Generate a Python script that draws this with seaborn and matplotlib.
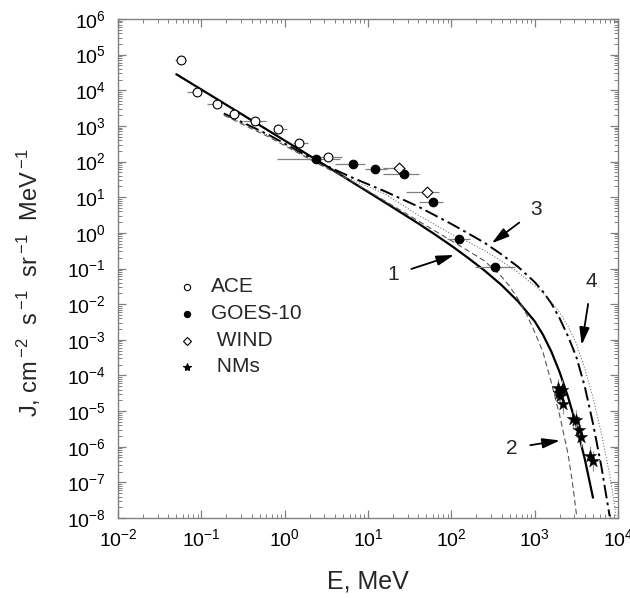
import numpy as np
import matplotlib
matplotlib.use("Agg")
import matplotlib.pyplot as plt
from matplotlib.ticker import LogLocator, NullFormatter
import seaborn as sns

# --- measured points (E in MeV, J in cm^-2 s^-1 sr^-1 MeV^-1) ---
ace_E = [0.0565, 0.0895, 0.153, 0.249, 0.445, 0.824, 1.47, 3.34]
ace_J = [7.1e4, 9.1e3, 4.0e3, 2.1e3, 1.35e3, 800, 330, 134]
ace_E_lo = [0.0485, 0.068, 0.116, 0.212, 0.319, 0.735, 1.27, 2.31]
ace_E_hi = [0.0658, 0.096, 0.168, 0.292, 0.592, 1.06, 1.92, 4.83]

goes_E = [2.38, 6.55, 12.1, 27.3, 59.7, 122, 334]
goes_J = [117, 87, 61, 46, 7.5, 0.66, 0.112]
goes_E_lo = [0.805, 4.04, 9.2, 15.3, 40.4, 88, 192]
goes_E_hi = [4.63, 9.25, 16.7, 40.4, 80.5, 167, 581]

wind_E = [23.5, 50.6]
wind_J = [68, 14.3]
wind_E_lo = [15.2, 28.4]
wind_E_hi = [27.7, 71.4]

nm_E = [1923, 2109, 1977, 2014, 2208, 2911, 3133, 3436, 3597, 4613, 5058]
nm_J = [4.35e-5, 3.9e-5, 3.16e-5, 2.63e-5, 1.58e-5, 5.9e-6, 5.6e-6, 2.95e-6, 1.9e-6, 5.5e-7, 4.1e-7]
nm_J_lo = [2.3e-5, 2.0e-5, 1.7e-5, 1.4e-5, 8.5e-6, 3.1e-6, 3.0e-6, 1.6e-6, 1.0e-6, 2.8e-7, 2.1e-7]
nm_J_hi = [8.0e-5, 7.3e-5, 5.9e-5, 4.9e-5, 3.0e-5, 1.1e-5, 1.05e-5, 5.5e-6, 3.6e-6, 1.05e-6, 7.8e-7]

# --- model curves ---
c1_E = [0.0501, 0.251, 1.0, 2.51, 6.31, 15.8, 39.8, 63.1, 100, 158, 251, 398, 631, 1000, 1259, 1585,
        1995, 2512, 3162, 3981, 5012]
c1_J = [2.82e4, 2.82e3, 389, 105, 27.5, 7.24, 1.86, 0.912, 0.437, 0.2, 0.0871, 0.0347, 0.012, 3.31e-3,
        1.38e-3, 4.68e-4, 1.23e-4, 2.51e-5, 3.98e-6, 4.68e-7, 3.72e-8]

c2_E = [0.186, 0.631, 2.51, 6.31, 15.8, 39.8, 100, 158, 251, 398, 501, 631, 794, 1000, 1259, 1585, 1995,
        2512, 2818, 3020, 3199]
c2_J = [2000, 501, 87.1, 28.8, 7.94, 2.19, 0.603, 0.316, 0.162, 0.0603, 0.0316, 0.0141, 5.37e-3, 1.66e-3,
        4.47e-4, 6.31e-5, 7.59e-6, 6.31e-7, 1.12e-7, 3.16e-8, 1.07e-8]

c3_E = [0.186, 0.631, 2.51, 6.31, 15.8, 39.8, 100, 158, 251, 398, 631, 1000, 1259, 1585, 1995, 2512,
        3162, 3981, 5012, 6310, 7079, 7943]
c3_J = [2240, 575, 97.7, 36.3, 14.8, 5.5, 1.78, 0.977, 0.525, 0.251, 0.112, 0.0417, 0.0224, 0.0105,
        3.98e-3, 1.26e-3, 3.31e-4, 5.01e-5, 4.47e-6, 2.82e-7, 5.62e-8, 1.12e-8]

c4_E = [0.186, 0.631, 2.51, 6.31, 15.8, 39.8, 100, 158, 251, 398, 631, 1000, 1259, 1585, 1995, 2512,
        3162, 3981, 5012, 6310, 7943, 8913, 9441]
c4_J = [2090, 550, 89.1, 30.9, 12.6, 3.16, 0.933, 0.562, 0.316, 0.162, 0.0776, 0.0331, 0.0204, 0.0115,
        5.75e-3, 2.4e-3, 7.94e-4, 1.58e-4, 2.4e-5, 2.4e-6, 1.66e-7, 3.16e-8, 1.12e-8]

legend_labels = ["ACE", "GOES-10", " WIND", " NMs"]
curve_labels = ["1", "2", "3", "4"]

sns.set_theme(style="ticks")
plt.rcParams["font.family"] = ["Liberation Sans", "DejaVu Sans"]
plt.rcParams["mathtext.fontset"] = "custom"
plt.rcParams["mathtext.rm"] = "Liberation Sans"
plt.rcParams["mathtext.it"] = "Liberation Sans:italic"
plt.rcParams["mathtext.bf"] = "Liberation Sans:bold"

fig = plt.figure(figsize=(6.3, 5.98), dpi=100)
ax = fig.add_axes([118 / 630, 1 - 518 / 598, 500 / 630, 499 / 598])
ax.set_xscale("log")
ax.set_yscale("log")

gray = "#808080"

# curves
sns.lineplot(x=c1_E, y=c1_J, ax=ax, color="black", lw=1.6, sort=False, estimator=None)
sns.lineplot(x=c2_E, y=c2_J, ax=ax, color="#555555", lw=0.8, sort=False, estimator=None,
             linestyle=(0, (5, 3)))
sns.lineplot(x=c3_E, y=c3_J, ax=ax, color="black", lw=1.4, sort=False, estimator=None,
             linestyle=(0, (7, 2.2, 1.4, 2.2)))
sns.lineplot(x=c4_E, y=c4_J, ax=ax, color="#555555", lw=0.7, sort=False, estimator=None,
             linestyle=(0, (1, 2)))

# error bars
def xbars(E, J, lo, hi):
    E = np.array(E)
    ax.errorbar(E, J, xerr=[E - np.array(lo), np.array(hi) - E], fmt="none",
                ecolor=gray, elinewidth=0.9, capsize=0, zorder=3)

xbars(ace_E, ace_J, ace_E_lo, ace_E_hi)
xbars(goes_E, goes_J, goes_E_lo, goes_E_hi)
xbars(wind_E, wind_J, wind_E_lo, wind_E_hi)
nmJ = np.array(nm_J)
ax.errorbar(nm_E, nmJ, yerr=[nmJ - np.array(nm_J_lo), np.array(nm_J_hi) - nmJ], fmt="none",
            ecolor="#999999", elinewidth=0.9, capsize=0, zorder=3)

# markers
sns.scatterplot(x=ace_E, y=ace_J, ax=ax, marker="o", s=40, color="white", edgecolor="black",
                linewidth=0.8, zorder=5)
sns.scatterplot(x=goes_E, y=goes_J, ax=ax, marker="o", s=38, color="black", edgecolor="black",
                linewidth=0.8, zorder=5)
sns.scatterplot(x=wind_E, y=wind_J, ax=ax, marker="D", s=30, color="white", edgecolor="black",
                linewidth=0.8, zorder=5)
sns.scatterplot(x=nm_E, y=nm_J, ax=ax, marker="*", s=90, color="black", edgecolor="black",
                linewidth=0.3, zorder=5)

ax.set_xlim(1e-2, 1e4)
ax.set_ylim(1e-8, 1e6)

ax.xaxis.set_major_locator(LogLocator(base=10, numticks=20))
ax.yaxis.set_major_locator(LogLocator(base=10, numticks=20))
ax.xaxis.set_minor_locator(LogLocator(base=10, subs=np.arange(2, 10), numticks=100))
ax.yaxis.set_minor_locator(LogLocator(base=10, subs=np.arange(2, 10), numticks=100))
ax.xaxis.set_minor_formatter(NullFormatter())
ax.yaxis.set_minor_formatter(NullFormatter())

ax.tick_params(which="both", direction="in", top=True, right=True, color=gray, labelsize=14,
               labelcolor="black")
ax.tick_params(which="major", length=6, width=0.9)
ax.tick_params(which="minor", length=3, width=0.7)
ax.tick_params(axis="y", which="major", pad=9)
ax.tick_params(axis="x", which="major", pad=7)
for sp in ax.spines.values():
    sp.set_color(gray)
    sp.set_linewidth(1.0)

ax.set_xlabel("E, MeV", fontsize=18, labelpad=14)
ax.set_ylabel(r"J, cm$\,^{-2}$  s$\,^{-1}$  sr$\,^{-1}$  MeV$\,^{-1}$", fontsize=17)
ax.yaxis.set_label_coords(-0.15, 0.471)

# legend drawn by hand like in the original
leg_y = [0.463, 0.409, 0.355, 0.303]
leg_mk = [dict(marker="o", mfc="white", mec="black", ms=4.5),
          dict(marker="o", mfc="black", mec="black", ms=4.5),
          dict(marker="D", mfc="white", mec="black", ms=4),
          dict(marker="*", mfc="black", mec="black", ms=6)]
for yy, lab, mk in zip(leg_y, legend_labels, leg_mk):
    ax.plot([0.138], [yy], transform=ax.transAxes, ls="none", mew=0.8, clip_on=False, **mk)
    ax.text(0.186, yy, lab, transform=ax.transAxes, fontsize=15, va="center", ha="left")

# curve labels with arrows
arrow = dict(arrowstyle="-|>,head_length=0.7,head_width=0.2", color="black", lw=1.3,
             shrinkA=7, shrinkB=0)
ax.annotate(curve_labels[0], xy=(108, 0.24), xytext=(20, 0.066), fontsize=15, ha="center",
            va="center", arrowprops=arrow)
ax.annotate(curve_labels[1], xy=(2014, 1.5e-6), xytext=(530, 9.1e-7), fontsize=15, ha="center",
            va="center", arrowprops=arrow)
ax.annotate(curve_labels[2], xy=(305, 0.51), xytext=(1040, 4.4), fontsize=15, ha="center",
            va="center", arrowprops=arrow)
ax.annotate(curve_labels[3], xy=(3664, 7.1e-4), xytext=(4830, 0.043), fontsize=15, ha="center",
            va="center", arrowprops=arrow)

fig.savefig("out.png", dpi=100)
